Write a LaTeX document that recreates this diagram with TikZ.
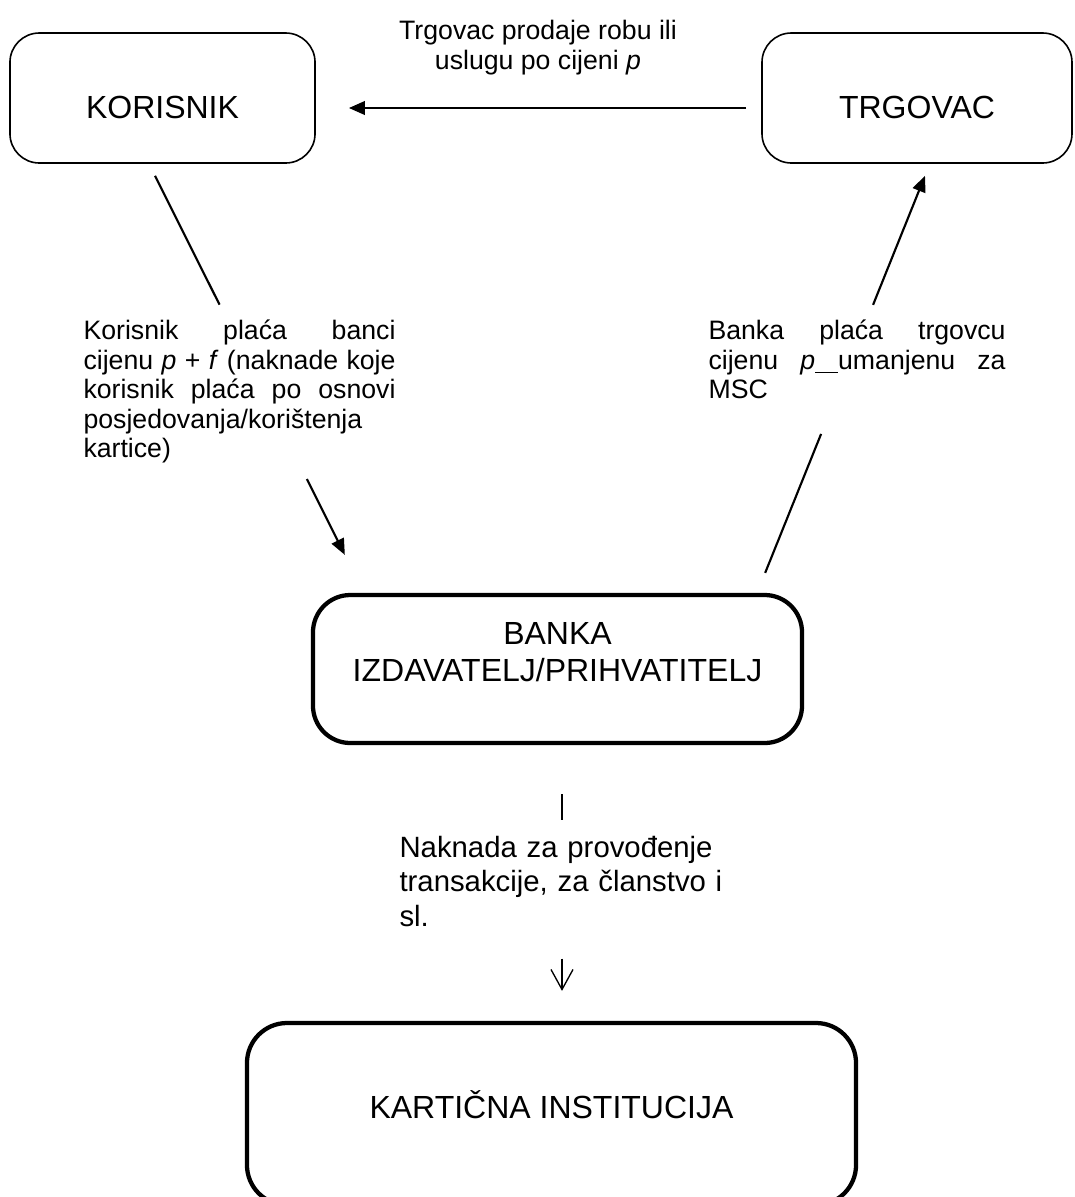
\documentclass[tikz,border=0pt]{standalone}
\usepackage{fontspec}
\setmainfont{Liberation Sans}
\usetikzlibrary{arrows.meta,positioning,calc}

\begin{document}
\begin{tikzpicture}[x=0.375pt,y=-0.375pt,
  box/.style={draw,line width=0.6pt,rounded corners=11pt,font=\fontsize{12}{13.9}\selectfont,text height=15.4pt,text depth=0pt},
  bigbox/.style={draw,line width=1.6pt,rounded corners=14pt,font=\fontsize{12}{13.9}\selectfont,align=center},
  opis/.style={inner sep=0pt,font=\fontsize{10}{11.1}\selectfont,execute at begin node={\tolerance=10000\hyphenpenalty=10000}},
  arr/.style={-{Triangle[length=6pt,width=5pt]},line width=0.8pt}]
\useasboundingbox (0,0) rectangle (1074,1197);
\node[box,minimum width=114.4pt,minimum height=48.75pt] (kor) at (162.5,98) {KORISNIK};
\node[box,minimum width=116.25pt,minimum height=48.75pt] (trg) at (917,98) {TRGOVAC};
\node[bigbox,minimum width=183.4pt,minimum height=55.5pt,text depth=13.1pt] (bank) at (557.5,669) {BANKA\\IZDAVATELJ/PRIHVATITELJ};
\node[bigbox,minimum width=228.4pt,minimum height=68.25pt,text height=8.6pt,text depth=5.2pt,rounded corners=15pt] (kart) at (551.5,1114) {KARTIČNA INSTITUCIJA};
\node[opis,align=center,anchor=base] (tprod) at (538,69) {Trgovac prodaje robu ili\\uslugu po cijeni \textit{p}};
\node[opis,text width=117pt,align=justify,anchor=base west] (tkor) at (83,339.5) {Korisnik plaća banci\linebreak cijenu \textit{p} + \textit{f} (naknade koje\linebreak korisnik plaća po osnovi\linebreak posjedovanja/korištenja\newline kartice)};
\node[opis,text width=111.4pt,align=justify,anchor=base west] (ttrg) at (708,339.5) {Banka plaća trgovcu\linebreak cijenu \textit{p}\underline{\hspace{8.6pt}}umanjenu za\linebreak MSC};
\node[opis,text width=130pt,align=left,anchor=base west,font=\fontsize{11}{13.1}\selectfont] (tnak) at (399,857) {Naknada za provođenje\\transakcije, za članstvo i\\sl.};
\draw[arr,line width=1pt] ($(trg.west)+(-15,10)$) -- ($(kor.east)+(33,10)$);
\coordinate (ks) at ($(kor.south)+(-7.5,12)$);
\coordinate (kb) at ($(bank.north west)+(34,-38)$);
\draw[line width=0.8pt] (ks) -- ($(ks)!0.34!(kb)$);
\draw[arr] ($(ks)!0.8!(kb)$) -- (kb);
\coordinate (bs) at ($(bank.north east)+(-39,-20)$);
\coordinate (tb) at ($(trg.south)+(8,12)$);
\draw[line width=0.8pt] (bs) -- ($(bs)!0.35!(tb)$);
\draw[arr] ($(bs)!0.675!(tb)$) -- (tb);
\coordinate (bd) at ($(bank.south)+(4.5,49)$);
\coordinate (kt) at ($(kart.north)+(10.5,-30)$);
\draw[line width=0.5pt] (bd) -- ($(bd)!0.13!(kt)$);
\draw[-{Straight Barb[length=7.5pt,width=8.25pt]},line width=0.5pt] ($(bd)!0.836!(kt)$) -- (kt);
\end{tikzpicture}
\end{document}
